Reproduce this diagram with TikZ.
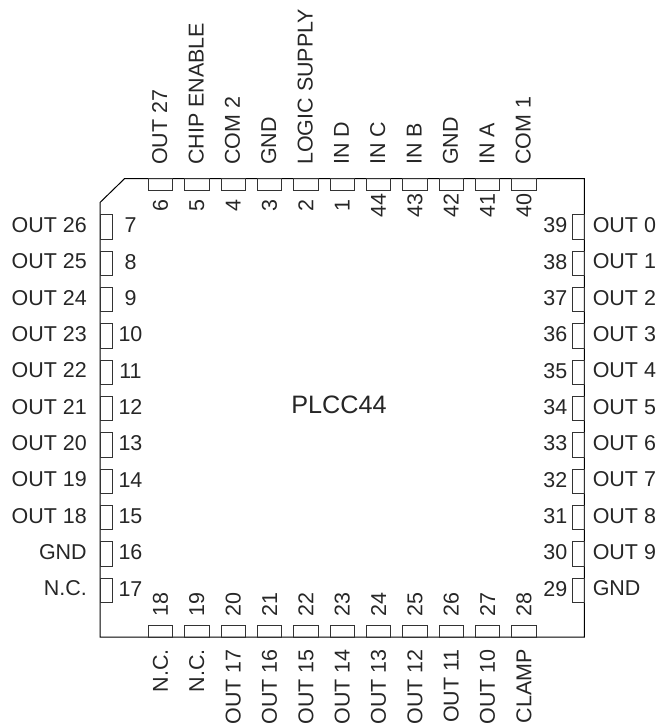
\documentclass[tikz,border=0pt]{standalone}
\usepackage{fontspec}
\setmainfont{Liberation Sans}
\begin{document}
\begin{tikzpicture}[x=0.75pt,y=-0.75pt,
                    pin/.style = {shape = rectangle,
                                  draw = black!80,
                                  line width = 0.6pt,
                                  inner sep = 0pt,
                                  outer sep = 0pt},
                    hpin/.style = {pin, minimum width = 9pt, minimum height = 18.3pt},
                    vpin/.style = {pin, minimum width = 18.3pt, minimum height = 9pt},
                    mtext/.style = {inner sep = 0pt,
                                    text = black!85,
                                    font = \fontsize{16.1}{18}\selectfont}]
	\useasboundingbox (0,0) rectangle (659,724);
	\draw[line width = 0.75pt] (124.5,178.7) -- (584.3,178.7) -- (584.3,637) -- (100,637) -- (100,202.5) -- cycle;
	% top
	\foreach \n/\t [count=\i from 0] in {6/OUT 27,5/CHIP ENABLE,4/COM 2,3/GND,2/LOGIC SUPPLY,1/IN D,44/IN C,43/IN B,42/GND,41/IN A,40/COM 1} {
		\node[vpin] (pin\n) at ({160.5+36.34*\i},184.6) {};
		\node[mtext, rotate=90] (num\n) at ({160.5+36.34*\i},205.5) {\n};
		\node[mtext, rotate=90, anchor=west] (sig\n) at ({159.8+36.34*\i},165) {\t};
	}
	% left
	\foreach \n/\t [count=\i from 0] in {7/OUT 26,8/OUT 25,9/OUT 24,10/OUT 23,11/OUT 22,12/OUT 21,13/OUT 20,14/OUT 19,15/OUT 18,16/GND,17/N.C.} {
		\node[hpin] (pin\n) at (106,{226.8+36.34*\i}) {};
		\node[mtext] (num\n) at (130.5,{225.3+36.34*\i}) {\n};
		\node[mtext, anchor=east] (sig\n) at (87,{225+36.34*\i}) {\t};
	}
	% bottom
	\foreach \n/\t [count=\i from 0] in {18/N.C.,19/N.C.,20/OUT 17,21/OUT 16,22/OUT 15,23/OUT 14,24/OUT 13,25/OUT 12,26/OUT 11,27/OUT 10,28/CLAMP} {
		\node[vpin] (pin\n) at ({160.5+36.34*\i},631) {};
		\node[mtext, rotate=90] (num\n) at ({160.5+36.34*\i},604.5) {\n};
		\node[mtext, rotate=90, anchor=east] (sig\n) at ({160.5+36.34*\i},649) {\t};
	}
	% right
	\foreach \n/\t [count=\i from 0] in {39/OUT 0,38/OUT 1,37/OUT 2,36/OUT 3,35/OUT 4,34/OUT 5,33/OUT 6,32/OUT 7,31/OUT 8,30/OUT 9,29/GND} {
		\node[hpin] (pin\n) at (578.3,{226.8+36.34*\i}) {};
		\node[mtext] (num\n) at (555.3,{225.3+36.34*\i}) {\n};
		\node[mtext, anchor=west] (sig\n) at (592.5,{225+36.34*\i}) {\t};
	}
	\node[mtext, font=\fontsize{18.9}{22}\selectfont] (chip) at (339,405) {PLCC44};
\end{tikzpicture}
\end{document}
